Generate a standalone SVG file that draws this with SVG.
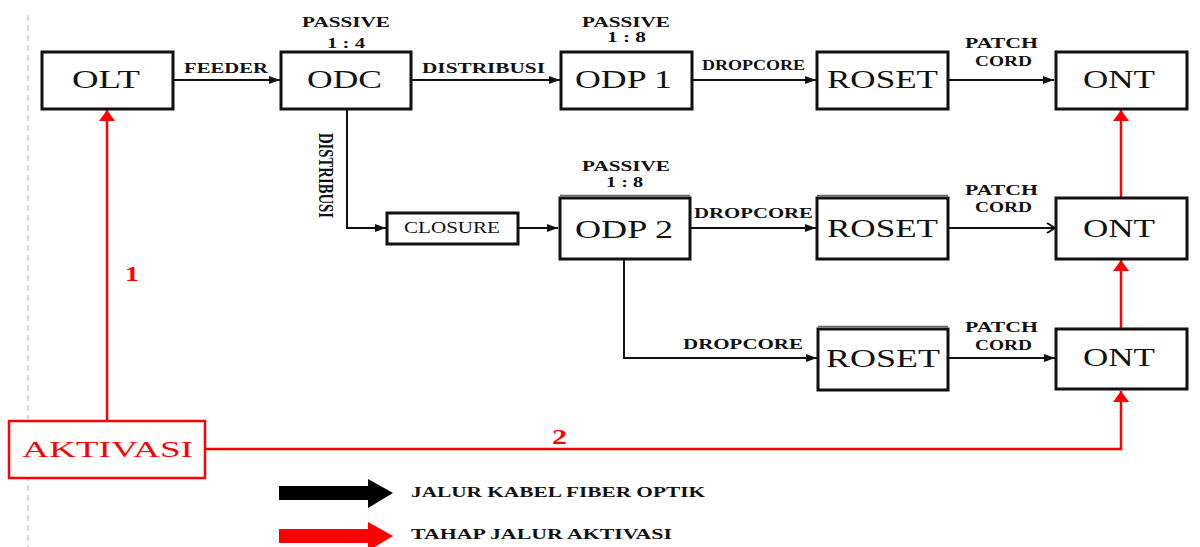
<svg xmlns="http://www.w3.org/2000/svg" width="1200" height="547" viewBox="0 0 1200 547">
<defs>
<style>
.box{fill:#fff;stroke:#111;stroke-width:3}
.rbox{fill:#fff;stroke:#f00;stroke-width:2.5}
.bt{font-family:"Liberation Serif",serif;font-size:25px;fill:#111;text-anchor:start}
.lb{font-family:"Liberation Serif",serif;font-size:15px;font-weight:bold;fill:#111}
.ln{fill:none;stroke:#111;stroke-width:2}
.rl{fill:none;stroke:#f00;stroke-width:2.5}
.num{font-family:"Liberation Serif",serif;font-size:21px;font-weight:bold;fill:#f00}
</style>
<marker id="ab" markerUnits="userSpaceOnUse" markerWidth="12" markerHeight="10" refX="11" refY="5" orient="auto"><path d="M0,1 L11,5 L0,9 z" fill="#111"/></marker>
<marker id="ao" markerUnits="userSpaceOnUse" markerWidth="12" markerHeight="12" refX="10" refY="6" orient="auto"><path d="M2,1 L10,6 L2,11" fill="none" stroke="#111" stroke-width="2"/></marker>
<marker id="ar" markerUnits="userSpaceOnUse" markerWidth="12" markerHeight="16" refX="11" refY="8" orient="auto"><path d="M0,0 L11,8 L0,16 z" fill="#f00"/></marker>
</defs>
<rect width="1200" height="547" fill="#fff"/>
<line x1="28" y1="15" x2="28" y2="547" stroke="#ccc" stroke-width="1.5" stroke-dasharray="6,4"/>

<g id="connectors">
<line class="ln" x1="173" y1="80" x2="280" y2="80" marker-end="url(#ab)"/>
<line class="ln" x1="411" y1="80" x2="560" y2="80" marker-end="url(#ab)"/>
<line class="ln" x1="692" y1="80" x2="816" y2="80" marker-end="url(#ab)"/>
<line class="ln" x1="948" y1="80" x2="1054" y2="80" marker-end="url(#ab)"/>
<polyline class="ln" points="347,109 347,228 386,228" marker-end="url(#ab)"/>
<line class="ln" x1="518" y1="228" x2="558" y2="228" marker-end="url(#ab)"/>
<line class="ln" x1="690" y1="228" x2="816" y2="228" marker-end="url(#ab)"/>
<line class="ln" x1="948" y1="228" x2="1055" y2="228" marker-end="url(#ao)"/>
<polyline class="ln" points="624,259 624,358 817,358" marker-end="url(#ab)"/>
<line class="ln" x1="948" y1="358" x2="1055" y2="358" marker-end="url(#ab)"/>
<line class="rl" x1="107" y1="421" x2="107" y2="110" marker-end="url(#ar)"/>
<polyline class="rl" points="205,449 1121,449 1121,391" marker-end="url(#ar)"/>
<line class="rl" x1="1121" y1="328" x2="1121" y2="260" marker-end="url(#ar)"/>
<line class="rl" x1="1121" y1="197" x2="1121" y2="110" marker-end="url(#ar)"/>
<text class="lb" x="184" y="73" textLength="84" lengthAdjust="spacingAndGlyphs">FEEDER</text>
<text class="lb" x="422" y="73" textLength="123" lengthAdjust="spacingAndGlyphs">DISTRIBUSI</text>
<text class="lb" x="702" y="70" textLength="103" lengthAdjust="spacingAndGlyphs">DROPCORE</text>
<text class="lb" x="965" y="48" textLength="73" lengthAdjust="spacingAndGlyphs">PATCH</text>
<text class="lb" x="975" y="66" textLength="57" lengthAdjust="spacingAndGlyphs">CORD</text>
<text class="lb" transform="translate(319,133) scale(1.45,1) rotate(90)" x="0" y="0" textLength="85" lengthAdjust="spacingAndGlyphs">DISTRIBUSI</text>
<text class="lb" x="694" y="218" textLength="119" lengthAdjust="spacingAndGlyphs">DROPCORE</text>
<text class="lb" x="965" y="195" textLength="73" lengthAdjust="spacingAndGlyphs">PATCH</text>
<text class="lb" x="975" y="212" textLength="57" lengthAdjust="spacingAndGlyphs">CORD</text>
<text class="lb" x="683" y="349" textLength="120" lengthAdjust="spacingAndGlyphs">DROPCORE</text>
<text class="lb" x="965" y="332" textLength="73" lengthAdjust="spacingAndGlyphs">PATCH</text>
<text class="lb" x="975" y="350" textLength="57" lengthAdjust="spacingAndGlyphs">CORD</text>
<text class="num" x="125" y="281" textLength="14" lengthAdjust="spacingAndGlyphs">1</text>
<text class="num" x="552" y="444" textLength="15" lengthAdjust="spacingAndGlyphs">2</text>
</g>

<g id="olt"><rect class="box" x="42" y="52" width="131" height="57"/><text class="bt" x="72" y="88" textLength="68" lengthAdjust="spacingAndGlyphs">OLT</text></g>
<g id="odc"><rect class="box" x="281" y="52" width="130" height="57"/><text class="bt" x="307" y="88" textLength="75" lengthAdjust="spacingAndGlyphs">ODC</text>
<text class="lb" x="302" y="27" textLength="88" lengthAdjust="spacingAndGlyphs">PASSIVE</text><text class="lb" x="327" y="48" textLength="38" lengthAdjust="spacingAndGlyphs">1 : 4</text></g>
<g id="odp1"><rect class="box" x="561" y="52" width="131" height="57"/><text class="bt" x="575" y="88" textLength="97" lengthAdjust="spacingAndGlyphs">ODP 1</text>
<text class="lb" x="582" y="27" textLength="88" lengthAdjust="spacingAndGlyphs">PASSIVE</text><text class="lb" x="607" y="42" textLength="39" lengthAdjust="spacingAndGlyphs">1 : 8</text></g>
<g id="roset1"><rect class="box" x="817" y="52" width="131" height="57"/><text class="bt" x="827" y="88" textLength="111" lengthAdjust="spacingAndGlyphs">ROSET</text></g>
<g id="ont1"><rect class="box" x="1056" y="52" width="131" height="57"/><text class="bt" x="1083" y="88" textLength="72" lengthAdjust="spacingAndGlyphs">ONT</text></g>

<g id="closure"><rect class="box" x="387" y="213" width="131" height="31"/><text class="bt" style="font-size:16px" x="404" y="233" textLength="96" lengthAdjust="spacingAndGlyphs">CLOSURE</text></g>
<g id="odp2"><rect class="box" x="560" y="198" width="130" height="61"/><line x1="560" y1="195.5" x2="690" y2="195.5" stroke="#666" stroke-width="1.5"/><text class="bt" x="575" y="238" textLength="98" lengthAdjust="spacingAndGlyphs">ODP 2</text>
<text class="lb" x="582" y="171" textLength="88" lengthAdjust="spacingAndGlyphs">PASSIVE</text><text class="lb" x="606" y="187" textLength="37" lengthAdjust="spacingAndGlyphs">1 : 8</text></g>
<g id="roset2"><rect class="box" x="817" y="198" width="131" height="61"/><line x1="817" y1="195.5" x2="948" y2="195.5" stroke="#666" stroke-width="1.5"/><text class="bt" x="827" y="237" textLength="111" lengthAdjust="spacingAndGlyphs">ROSET</text></g>
<g id="ont2"><rect class="box" x="1056" y="198" width="131" height="61"/><text class="bt" x="1083" y="237" textLength="72" lengthAdjust="spacingAndGlyphs">ONT</text></g>
<g id="roset3"><rect class="box" x="818" y="329" width="130" height="61"/><line x1="818" y1="326.5" x2="948" y2="326.5" stroke="#666" stroke-width="1.5"/><text class="bt" x="826" y="367" textLength="114" lengthAdjust="spacingAndGlyphs">ROSET</text></g>
<g id="ont3"><rect class="box" x="1056" y="329" width="131" height="60"/><text class="bt" x="1083" y="366" textLength="72" lengthAdjust="spacingAndGlyphs">ONT</text></g>

<g id="aktivasi"><rect class="rbox" x="9" y="421" width="196" height="57"/><text class="bt" style="fill:#f00;font-size:23px" x="22" y="457" textLength="171" lengthAdjust="spacingAndGlyphs">AKTIVASI</text></g>

<g id="legend">
<path d="M279,486 H368 V479 L393,493 L368,508 V500 H279 z" fill="#000"/>
<text class="lb" style="font-size:14px" x="411" y="497" textLength="294" lengthAdjust="spacingAndGlyphs">JALUR KABEL FIBER OPTIK</text>
<path d="M279,529 H368 V522 L393,536 L368,551 V543 H279 z" fill="#f00"/>
<text class="lb" style="font-size:14px" x="411" y="539" textLength="261" lengthAdjust="spacingAndGlyphs">TAHAP JALUR AKTIVASI</text>
</g>
</svg>
